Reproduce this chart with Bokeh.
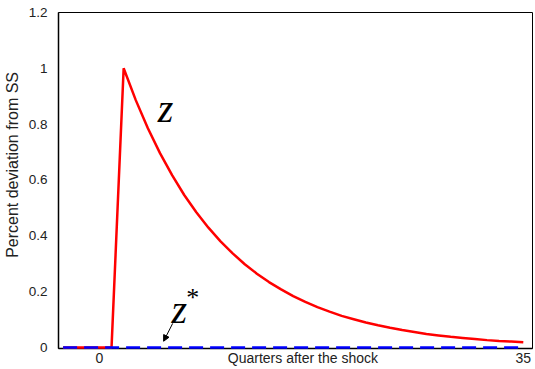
from bokeh.plotting import figure
from bokeh.models import Range1d, FixedTicker, PrintfTickFormatter, Label, Arrow, NormalHead
from bokeh.embed import file_html
from bokeh.resources import INLINE

# ---- data ----
quarters = list(range(-3, 36))
z_home = [0.0, 0.0, 0.0, 0.0, 0.0,
          1.000, 0.886, 0.785, 0.696, 0.617, 0.546, 0.484, 0.429, 0.380, 0.337,
          0.298, 0.264, 0.234, 0.208, 0.184, 0.163, 0.144, 0.128, 0.113, 0.101,
          0.089, 0.079, 0.070, 0.062, 0.055, 0.048, 0.043, 0.038, 0.034, 0.030,
          0.026, 0.023, 0.021, 0.018]
z_foreign = [0.0] * len(quarters)

y_ticks = [0, 0.2, 0.4, 0.6, 0.8, 1.0, 1.2]
x_ticks = [0, 16.8, 35]
x_tick_labels = {0: "0", 16.8: "Quarters after the shock", 35: "35"}
y_title = "\u00a0" * 7 + "Percent deviation from SS"

p = figure(width=534, height=368, output_backend="svg", toolbar_location=None,
           x_range=Range1d(-3.38, 35.76), y_range=Range1d(-0.004, 1.2),
           min_border_left=57, min_border_right=2, min_border_top=12, min_border_bottom=18)
p.background_fill_color = "white"
p.border_fill_color = "white"
p.outline_line_color = "black"
p.outline_line_width = 1
p.xgrid.visible = False
p.ygrid.visible = False

p.line(quarters, z_home, line_color="#ff0000", line_width=2.5, level="overlay")
p.line(quarters, z_foreign, line_color="#0000ff", line_width=2.5, line_dash="14 7", level="overlay")

font = "Liberation Sans"
p.yaxis.ticker = FixedTicker(ticks=y_ticks)
p.yaxis.formatter = PrintfTickFormatter(format="%g")
p.yaxis.axis_label = y_title
p.yaxis.axis_label_text_font = font
p.yaxis.axis_label_text_font_style = "normal"
p.yaxis.axis_label_text_font_size = "16px"
p.yaxis.axis_label_text_color = "#222222"
p.yaxis.axis_label_standoff = 5
p.yaxis.major_label_text_font = font
p.yaxis.major_label_text_font_size = "13.5px"
p.yaxis.major_label_text_color = "#222222"
p.yaxis.major_label_standoff = 11
p.yaxis.major_tick_out = 0
p.yaxis.major_tick_in = 0
p.yaxis.minor_tick_out = 0
p.yaxis.minor_tick_in = 0
p.yaxis.axis_line_width = 1.5

p.xaxis.ticker = FixedTicker(ticks=x_ticks)
p.xaxis.major_label_overrides = x_tick_labels
p.xaxis.major_label_text_font = font
p.xaxis.major_label_text_font_size = "14px"
p.xaxis.major_label_text_color = "#222222"
p.xaxis.major_label_standoff = 1
p.xaxis.major_tick_out = 0
p.xaxis.major_tick_in = 0
p.xaxis.minor_tick_out = 0
p.xaxis.minor_tick_in = 0
p.xaxis.axis_line_width = 1.5

# ---- annotations ----
p.add_layout(Label(x=5.45, y=0.855, text="z", text_font="Liberation Serif",
                   text_font_style="italic", text_font_size="40px",
                   text_align="center", text_baseline="middle", text_color="black"))
p.add_layout(Label(x=6.6, y=0.135, text="z", text_font="Liberation Serif",
                   text_font_style="italic", text_font_size="40px",
                   text_align="center", text_baseline="middle", text_color="black"))
p.add_layout(Label(x=7.7, y=0.177, text="*", text_font="Liberation Serif",
                   text_font_size="26px",
                   text_align="center", text_baseline="middle", text_color="black"))
p.add_layout(Arrow(end=NormalHead(size=6, fill_color="black", line_color="black"),
                   x_start=6.05, y_start=0.086, x_end=5.3, y_end=0.022,
                   line_color="black", line_width=1))

open("out.html", "w").write(file_html(p, INLINE))
